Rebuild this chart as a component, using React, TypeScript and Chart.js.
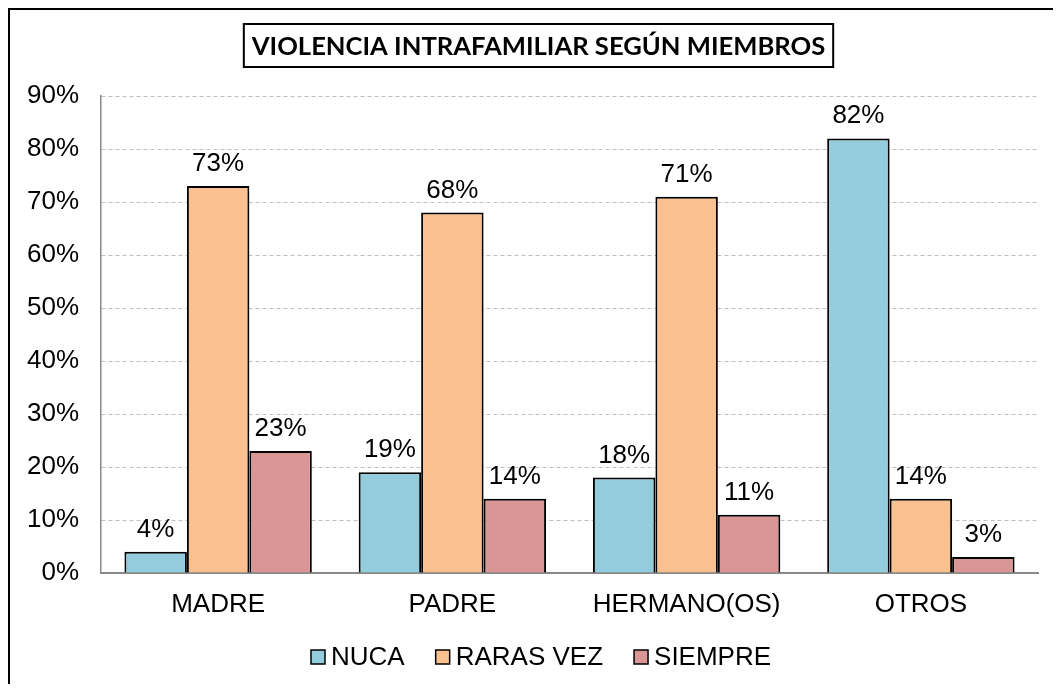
import React, { useEffect, useRef } from "react";
import { Chart, registerables } from "chart.js";

Chart.register(...registerables);

const TITLE = "VIOLENCIA INTRAFAMILIAR SEGÚN MIEMBROS";
const categories = ["MADRE", "PADRE", "HERMANO(OS)", "OTROS"];
const seriesNames = ["NUCA", "RARAS VEZ", "SIEMPRE"];
const nuca = [4, 19, 18, 82];
const rarasVez = [73, 68, 71, 14];
const siempre = [23, 14, 11, 3];
const seriesColors = ["#93CDDD", "#FAC090", "#D99694"];

const FONT_FAMILY = "'Liberation Sans', Arial, sans-serif";
const TICK_FONT = "26px " + FONT_FAMILY;

const titlePlugin = {
  id: "titleBox",
  afterDraw(chart: any) {
    const ctx = chart.ctx;
    ctx.save();
    ctx.font = "bold 25.6px Lato, 'Open Sans', sans-serif";
    const w = ctx.measureText(TITLE).width;
    const cx = 528.5;
    const cy = 35.5;
    const bw = w + 16;
    const bh = 43;
    ctx.lineWidth = 2;
    ctx.strokeStyle = "#000";
    ctx.strokeRect(cx - bw / 2, cy - bh / 2, bw, bh);
    ctx.fillStyle = "#000";
    ctx.textAlign = "center";
    ctx.textBaseline = "middle";
    ctx.fillText(TITLE, cx, cy + 1);
    ctx.restore();
  },
};

const labelPlugin = {
  id: "valueLabels",
  afterDatasetsDraw(chart: any) {
    const ctx = chart.ctx;
    ctx.save();
    ctx.font = TICK_FONT;
    ctx.fillStyle = "#000";
    ctx.textAlign = "center";
    ctx.textBaseline = "alphabetic";
    chart.data.datasets.forEach((ds: any, i: number) => {
      const meta = chart.getDatasetMeta(i);
      meta.data.forEach((el: any, j: number) => {
        ctx.fillText(ds.data[j] + "%", el.x, el.y - 15);
      });
    });
    ctx.restore();
  },
};

const legendPlugin = {
  id: "customLegend",
  afterDraw(chart: any) {
    const ctx = chart.ctx;
    ctx.save();
    ctx.font = TICK_FONT;
    ctx.textAlign = "left";
    ctx.textBaseline = "middle";
    let x = 301;
    const boxTop = 640;
    const box = 14;
    chart.data.datasets.forEach((ds: any) => {
      ctx.fillStyle = ds.backgroundColor;
      ctx.fillRect(x, boxTop, box, box);
      ctx.lineWidth = 1.5;
      ctx.strokeStyle = "#000";
      ctx.strokeRect(x, boxTop, box, box);
      ctx.fillStyle = "#000";
      ctx.fillText(ds.label, x + box + 6, boxTop + box / 2 + 1);
      x += box + 6 + ctx.measureText(ds.label).width + 31;
    });
    ctx.restore();
  },
};

export default function App() {
  const ref = useRef<HTMLCanvasElement | null>(null);
  useEffect(() => {
    if (!ref.current) return;
    const series = [nuca, rarasVez, siempre];
    const chart = new Chart(ref.current, {
      type: "bar",
      data: {
        labels: categories,
        datasets: series.map((d, i) => ({
          label: seriesNames[i],
          data: d,
          backgroundColor: seriesColors[i],
          borderColor: "#000",
          borderWidth: 2,
          categoryPercentage: 0.8,
          barPercentage: 1,
        })),
      },
      options: {
        responsive: false,
        animation: false,
        layout: { padding: { top: 86, right: 15, bottom: 51, left: 0 } },
        plugins: {
          legend: { display: false },
          title: { display: false },
          tooltip: { enabled: false },
        },
        scales: {
          x: {
            grid: { display: false, drawTicks: false },
            border: { display: true, color: "#898989", width: 2 },
            ticks: { color: "#000", font: { family: FONT_FAMILY, size: 26 }, padding: 16, maxRotation: 0 },
            afterFit(scale: any) {
              scale.height = 60;
            },
          },
          y: {
            min: 0,
            max: 90,
            ticks: {
              stepSize: 10,
              color: "#000",
              padding: 22,
              font: { family: FONT_FAMILY, size: 26 },
              callback: (v: any) => v + "%",
            },
            grid: { color: "#BFBFBF", lineWidth: 1, drawTicks: false },
            border: { display: true, color: "#898989", width: 1.5, dash: [4, 3] },
            afterFit(scale: any) {
              scale.width = 91;
            },
          },
        },
      },
      plugins: [titlePlugin, labelPlugin, legendPlugin],
    });
    return () => chart.destroy();
  }, []);
  return (
    <div
      style={{
        width: 1045,
        height: 676,
        boxSizing: "border-box",
        borderLeft: "2px solid #000",
        borderTop: "2px solid #000",
        background: "#fff",
      }}
    >
      <canvas ref={ref} width={1043} height={674} style={{ display: "block", width: 1043, height: 674 }} />
    </div>
  );
}
